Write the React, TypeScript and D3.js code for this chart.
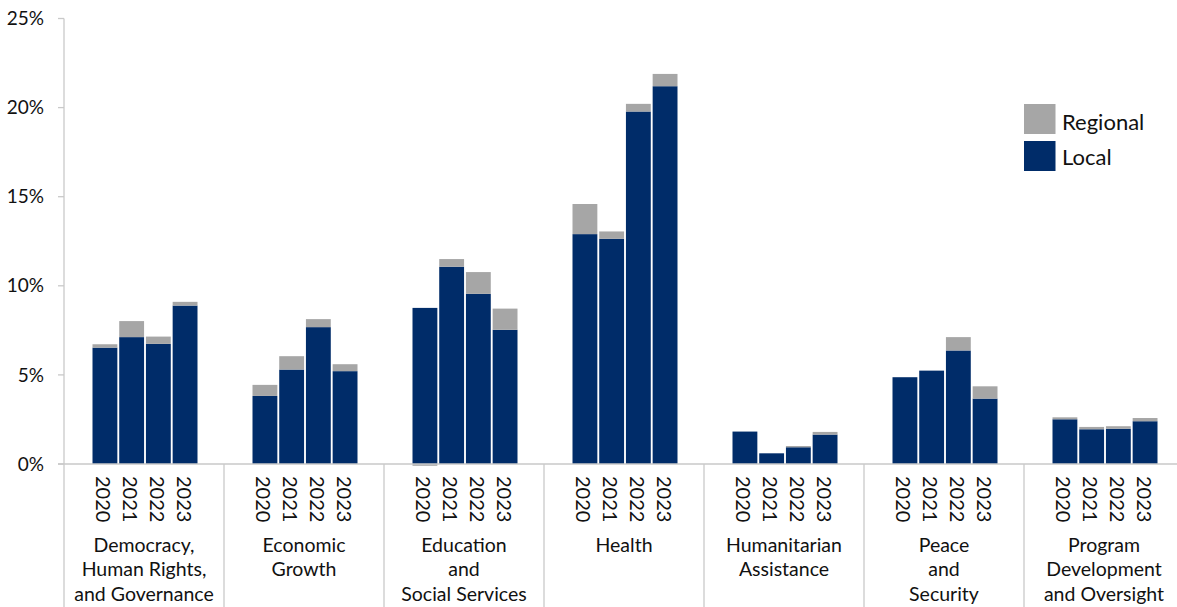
import React from "react";
import * as d3 from "d3";

const categories = [
  ["Democracy,", "Human Rights,", "and Governance"],
  ["Economic", "Growth"],
  ["Education", "and", "Social Services"],
  ["Health"],
  ["Humanitarian", "Assistance"],
  ["Peace", "and", "Security"],
  ["Program", "Development", "and Oversight"],
];
const years = ["2020", "2021", "2022", "2023"];
// Local share (%) per category, per year
const localValues = [
  [6.53, 7.12, 6.74, 8.89],
  [3.82, 5.3, 7.68, 5.21],
  [8.76, 11.07, 9.55, 7.53],
  [12.9, 12.64, 19.78, 21.2],
  [1.82, 0.6, 0.94, 1.65],
  [4.87, 5.24, 6.37, 3.67],
  [2.51, 1.95, 1.98, 2.4],
];
// Regional share (%) per category, per year
const regionalValues = [
  [0.19, 0.9, 0.41, 0.21],
  [0.62, 0.75, 0.45, 0.39],
  [-0.1, 0.43, 1.22, 1.19],
  [1.69, 0.41, 0.43, 0.69],
  [0, 0, 0.07, 0.15],
  [0, 0, 0.75, 0.69],
  [0.11, 0.13, 0.14, 0.18],
];
const yTicks = [0, 5, 10, 15, 20, 25];
const seriesNames = ["Regional", "Local"];

const W = 1177;
const H = 607;
const LOCAL = "#002C69";
const REGIONAL = "#A6A6A6";
const AXIS = "#C9C9C9";
const FONT = "'Lato', 'Open Sans', sans-serif";

export default function App() {
  const x0 = 64;
  const groupW = 160;
  const yScale = d3.scaleLinear().domain([0, 25]).range([464, 18.5]);
  const xGroup = d3
    .scaleBand<number>()
    .domain(categories.map((_, i) => i))
    .range([x0, x0 + groupW * categories.length]);
  const xYear = d3
    .scaleBand<string>()
    .domain(years)
    .range([28.5, 133.5])
    .paddingInner(0.07);

  const base = yScale(0);

  return (
    <div style={{ position: "fixed", top: 0, left: 0, width: W, height: H, overflow: "hidden" }}>
      <svg width={W} height={H} style={{ display: "block", background: "#fff" }}>
        {/* y axis */}
        <line x1={x0} x2={x0} y1={yScale(25)} y2={base} stroke={AXIS} strokeWidth={1.3} />
        {yTicks.map((t) => (
          <g key={t}>
            <line x1={58} x2={x0} y1={yScale(t)} y2={yScale(t)} stroke={AXIS} strokeWidth={1.3} />
            <text
              x={44}
              y={yScale(t)}
              dy="0.35em"
              textAnchor="end"
              fontFamily={FONT}
              fontSize={19}
              fill="#111"
            >
              {t}%
            </text>
          </g>
        ))}
        {/* bars */}
        {categories.map((_, ci) =>
          years.map((yr, yi) => {
            const bx = (xGroup(ci) as number) + (xYear(yr) as number);
            const bw = xYear.bandwidth();
            const lv = localValues[ci][yi];
            const rv = regionalValues[ci][yi];
            return (
              <g key={`${ci}-${yr}`}>
                <rect x={bx} y={yScale(lv)} width={bw} height={base - yScale(lv)} fill={LOCAL} />
                {rv > 0 && (
                  <rect
                    x={bx}
                    y={yScale(lv + rv)}
                    width={bw}
                    height={yScale(lv) - yScale(lv + rv)}
                    fill={REGIONAL}
                  />
                )}
                {rv < 0 && (
                  <rect
                    x={bx}
                    y={base}
                    width={bw}
                    height={yScale(rv) - base}
                    fill={REGIONAL}
                  />
                )}
              </g>
            );
          })
        )}
        {/* baseline */}
        <line x1={58} x2={W} y1={base} y2={base} stroke={AXIS} strokeWidth={1.3} />
        {/* group separators */}
        {categories.map((_, ci) => (
          <line
            key={ci}
            x1={(xGroup(ci) as number) + groupW}
            x2={(xGroup(ci) as number) + groupW}
            y1={base}
            y2={H}
            stroke={AXIS}
            strokeWidth={1.3}
          />
        ))}
        <line x1={x0} x2={x0} y1={base} y2={H} stroke={AXIS} strokeWidth={1.3} />
        {/* year labels */}
        {categories.map((_, ci) =>
          years.map((yr) => {
            const cx = (xGroup(ci) as number) + (xYear(yr) as number) + xYear.bandwidth() / 2 - 1.5;
            return (
              <text
                key={`${ci}-${yr}`}
                transform={`translate(${cx},${476}) rotate(90)`}
                dy="0.35em"
                fontFamily={FONT}
                fontSize={20}
                fill="#111"
              >
                {yr}
              </text>
            );
          })
        )}
        {/* category labels */}
        {categories.map((lines, ci) => (
          <text
            key={ci}
            x={(xGroup(ci) as number) + groupW / 2}
            textAnchor="middle"
            fontFamily={FONT}
            fontSize={19.5}
            fill="#111"
          >
            {lines.map((l, li) => (
              <tspan key={li} x={(xGroup(ci) as number) + groupW / 2} y={551.5 + li * 24.5}>
                {l}
              </tspan>
            ))}
          </text>
        ))}
        {/* legend */}
        {seriesNames.map((s, i) => (
          <g key={s}>
            <rect
              x={1024}
              y={104 + i * 37}
              width={31.5}
              height={30}
              fill={s === "Regional" ? REGIONAL : LOCAL}
            />
            <text x={1062} y={129.5 + i * 35} fontFamily={FONT} fontSize={22} fill="#111">
              {s}
            </text>
          </g>
        ))}
      </svg>
    </div>
  );
}
